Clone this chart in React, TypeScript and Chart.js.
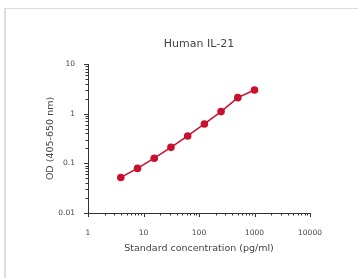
import React, { useEffect, useRef } from "react";
import { Chart, registerables } from "chart.js";

Chart.register(...registerables);

const chartTitle = "Human IL-21";
const xAxisTitle = "Standard concentration (pg/ml)";
const yAxisTitle = "OD (405-650 nm)";
const concentrations = [3.9, 7.8, 15.6, 31.25, 62.5, 125, 250, 500, 1000];
const odValues = [0.052, 0.079, 0.127, 0.21, 0.356, 0.62, 1.1, 2.1, 3.0];
const xTickValues = [1, 10, 100, 1000, 10000];
const yTickValues = [0.01, 0.1, 1, 10];

const FONT = "'DejaVu Sans', Verdana, sans-serif";
const RED = "#c8102e";
const AXIS = "#333333";
const TEXT = "#444444";

const logTicksPlugin = {
  id: "logTicks",
  afterDraw(chart: any) {
    const ctx = chart.ctx;
    ctx.save();
    ctx.strokeStyle = AXIS;
    ctx.lineWidth = 1;
    const xs = chart.scales.x;
    const ys = chart.scales.y;
    const { bottom, left, right, top } = chart.chartArea;
    ctx.beginPath();
    for (let d = 1; d < 10000; d *= 10) {
      for (let m = 1; m <= 10; m++) {
        const v = d * m;
        if (v > 10000) continue;
        const px = Math.round(xs.getPixelForValue(v)) + 0.5;
        const len = m === 1 || m === 10 ? 4 : 2.5;
        ctx.moveTo(px, bottom);
        ctx.lineTo(px, bottom + len);
      }
    }
    for (let d = 0.01; d < 10; d *= 10) {
      for (let m = 1; m <= 10; m++) {
        const v = d * m;
        const py = Math.round(ys.getPixelForValue(v)) + 0.5;
        const len = m === 1 || m === 10 ? 4 : 2.5;
        ctx.moveTo(left, py);
        ctx.lineTo(left - len, py);
      }
    }
    ctx.stroke();
    // chart title centred over the plot area
    ctx.fillStyle = TEXT;
    ctx.font = `11px ${FONT}`;
    ctx.textAlign = "center";
    ctx.textBaseline = "middle";
    ctx.fillText(chartTitle, (left + right) / 2, top - 20);
    ctx.restore();
  },
};

export default function App() {
  const ref = useRef<HTMLCanvasElement>(null);
  useEffect(() => {
    if (!ref.current) return;
    const chart = new Chart(ref.current, {
      type: "line",
      data: {
        datasets: [
          {
            data: concentrations.map((c, i) => ({ x: c, y: odValues[i] })),
            borderColor: RED,
            backgroundColor: RED,
            borderWidth: 1.5,
            pointRadius: 3.8,
            pointBorderWidth: 0,
            pointBackgroundColor: RED,
            tension: 0,
          },
        ],
      },
      options: {
        animation: false,
        responsive: false,
        maintainAspectRatio: false,
        layout: { padding: { left: 0, right: 48, top: 64, bottom: 0 } },
        plugins: {
          legend: { display: false },
          tooltip: { enabled: false },
          title: { display: false },
        },
        scales: {
          x: {
            type: "logarithmic",
            min: 1,
            max: 10000,
            afterFit(scale: any) {
              scale.height = 65;
            },
            afterBuildTicks(scale: any) {
              scale.ticks = xTickValues.map((v) => ({ value: v }));
            },
            grid: { display: false },
            border: { display: true, color: AXIS, width: 1 },
            ticks: {
              autoSkip: false,
              maxRotation: 0,
              padding: 8,
              color: TEXT,
              font: { family: FONT, size: 7.5 },
              callback: (v: any) => String(v),
            },
            title: {
              display: true,
              text: xAxisTitle,
              color: TEXT,
              font: { family: FONT, size: 9.5 },
              padding: { top: 0, bottom: 23.5 },
            },
          },
          y: {
            type: "logarithmic",
            min: 0.01,
            max: 10,
            afterFit(scale: any) {
              scale.width = 88;
            },
            afterBuildTicks(scale: any) {
              scale.ticks = yTickValues.map((v) => ({ value: v }));
            },
            grid: { display: false },
            border: { display: true, color: AXIS, width: 1 },
            ticks: {
              autoSkip: false,
              padding: 5,
              color: TEXT,
              font: { family: FONT, size: 7.5 },
              callback: (v: any) => String(v),
            },
            title: {
              display: true,
              text: yAxisTitle,
              color: TEXT,
              font: { family: FONT, size: 9.5 },
              padding: { top: 45, bottom: 0 },
            },
          },
        },
      },
      plugins: [logTicksPlugin],
    });
    return () => chart.destroy();
  }, []);

  return (
    <div style={{ position: "fixed", left: 0, top: 0, width: 358, height: 278, background: "#fff" }}>
      <div
        style={{
          position: "absolute",
          left: 4,
          top: 8,
          right: 0,
          bottom: 0,
          borderLeft: "2px solid #dcdcdc",
          borderTop: "1px solid #dcdcdc",
        }}
      />
      <canvas ref={ref} width={358} height={278} style={{ position: "absolute", left: 0, top: 0 }} />
    </div>
  );
}
